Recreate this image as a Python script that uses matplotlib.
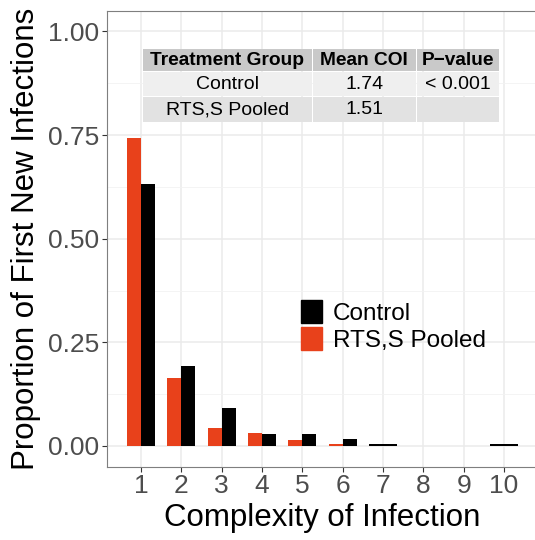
import numpy as np
import matplotlib
matplotlib.use("Agg")
import matplotlib.pyplot as plt
from matplotlib.patches import Rectangle

plt.rcParams['font.family'] = ['Liberation Sans', 'DejaVu Sans']

# Данные
coi = [1, 2, 3, 4, 5, 6, 7, 8, 9, 10]
rts_pooled = [0.742, 0.165, 0.043, 0.032, 0.014, 0.005, 0.0, 0.0, 0.0, 0.0]
control = [0.631, 0.194, 0.091, 0.028, 0.029, 0.017, 0.005, 0.0, 0.0, 0.005]
groups = ['Control', 'RTS,S Pooled']
colors = {'Control': '#000000', 'RTS,S Pooled': '#E8411B'}

table_header = ['Treatment Group', 'Mean COI', 'P\u2212value']
table_rows = [['Control', '1.74', '< 0.001'],
              ['RTS,S Pooled', '1.51', '']]

W, H = 535, 540
fig = plt.figure(figsize=(W / 100, H / 100), dpi=100)
ax = fig.add_axes([107 / W, 1 - 466.7 / H, 431 / W, (466.7 - 10.7) / H])

# Столбцы (position = dodge как в ggplot: одиночный столбец на всю ширину)
width = 0.7
for i, x in enumerate(coi):
    r, c = rts_pooled[i], control[i]
    if r > 0 and c > 0:
        ax.bar(x - width / 4, r, width / 2, color=colors['RTS,S Pooled'], linewidth=0)
        ax.bar(x + width / 4, c, width / 2, color=colors['Control'], linewidth=0)
    elif c > 0:
        ax.bar(x, c, width, color=colors['Control'], linewidth=0)
    elif r > 0:
        ax.bar(x, r, width, color=colors['RTS,S Pooled'], linewidth=0)

ax.set_xlim(0.157, 10.843)
ax.set_ylim(-0.05, 1.05)
ax.set_xticks(coi)
ax.set_xticklabels([str(v) for v in coi])
ax.set_yticks([0, 0.25, 0.5, 0.75, 1.0])
ax.set_yticklabels(['0.00', '0.25', '0.50', '0.75', '1.00'])
ax.set_yticks([0.125, 0.375, 0.625, 0.875], minor=True)

ax.set_axisbelow(True)
ax.grid(which='major', color='#ebebeb', linewidth=1.1)
ax.grid(which='minor', axis='y', color='#f2f2f2', linewidth=0.6)
ax.tick_params(which='minor', length=0)
ax.tick_params(which='major', length=3.5, width=0.8, color='#333333',
               labelcolor='#4d4d4d', labelsize=19, pad=2)
for s in ax.spines.values():
    s.set_color('#7f7f7f')
    s.set_linewidth(0.8)

ax.set_xlabel('Complexity of Infection', fontsize=22.5, labelpad=3)
ax.set_ylabel('Proportion of First New Infections', fontsize=22.5, labelpad=5)

# Легенда
leg_handles = [Rectangle((0, 0), 1, 1, color=colors[g]) for g in groups]
leg = ax.legend(leg_handles, groups, loc='upper left',
                bbox_to_anchor=((284 - 107) / 431, (466.7 - 283) / 456),
                frameon=False, fontsize=17.5, handlelength=0.85, handleheight=1.05,
                handletextpad=0.45, labelspacing=0.1, borderpad=0.2)

# Таблица (как tableGrob)
col_x = [143.3, 313.0, 417.0, 500.5]
row_y = [49.3, 72.3, 97.0, 123.3]
fills = ['#c9c9c9', '#efefef', '#e2e2e2']
cells = [table_header] + table_rows
for r in range(3):
    for c in range(3):
        x0, x1 = col_x[c], col_x[c + 1] - 1.5
        y0, y1 = row_y[r], row_y[r + 1] - 1.2
        fig.patches.append(Rectangle((x0 / W, 1 - y1 / H), (x1 - x0) / W, (y1 - y0) / H,
                                     transform=fig.transFigure, facecolor=fills[r],
                                     edgecolor='none', zorder=5))
        fig.text((x0 + x1) / 2 / W, 1 - (y0 + y1) / 2 / H, cells[r][c],
                 ha='center', va='center', fontsize=13.8 if r == 0 else 14,
                 fontweight='bold' if r == 0 else 'normal', color='black', zorder=6)

fig.savefig('out.png', dpi=100)
